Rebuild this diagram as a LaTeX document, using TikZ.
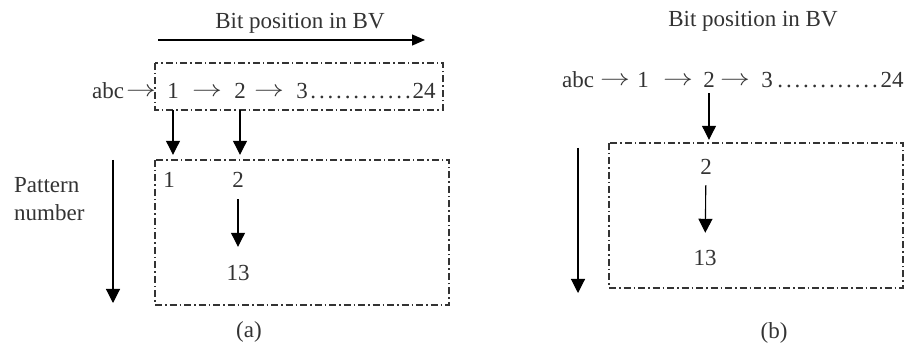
\documentclass[tikz,border=0pt]{standalone}
\usepackage{fix-cm}
\usepackage{fontspec}
\setmainfont{Liberation Serif}
\usetikzlibrary{arrows.meta}

\newcommand\dotrow{\hbox{}\leaders\hbox to 8.6pt{\hss.\hss}\hskip 104pt\hbox{}}
\newcommand\rarr{\raisebox{2pt}{\scalebox{1.3}[1]{$\rightarrow$}}}

\tikzset{
  txt/.style={inner sep=0pt, text=black!80, font=\fontsize{23}{28}\selectfont, text height=15pt, text depth=0pt},
  para/.style={inner sep=0pt, text=black!80, font=\fontsize{23}{28}\selectfont},
  dashdotbox/.style={draw=black!80, line width=1.1pt, dash pattern=on 7pt off 3pt on 1.5pt off 3pt},
  bigarr/.style={-{Triangle[length=14pt,width=14pt]}, line width=1.1pt},
}

\begin{document}
\begin{tikzpicture}[x=1pt, y=-1pt]
\useasboundingbox (0,0) rectangle (910,352);
% (a) bit vector with pattern lists
\node[txt] (atitle) at (300,21) {Bit position in BV};
\coordinate (ta1) at (158,40);
\coordinate (ta2) at (425,40);
\draw[-{Triangle[length=13pt,width=11pt]}, line width=1.3pt] (ta1) -- (ta2);
\node[txt] (aabc) at (108,91) {abc};
\node[txt] (aar1) at (141,91) {\rarr};
\node[txt] (a1) at (173,91) {1};
\node[txt] (aar2) at (207,91) {\rarr};
\node[txt] (a2) at (240,91) {2};
\node[txt] (aar3) at (269,91) {\rarr};
\node[txt] (a3) at (302,91) {3};
\node[txt] (adots) at (361,91) {\dotrow};
\node[txt] (a24) at (424,91) {24};
\draw[dashdotbox] (155,63) rectangle (443,110); % bit row
\node[txt] (ap1) at (169,180) {1};
\node[txt] (ap2) at (238,180) {2};
\node[txt] (ap13) at (238,273) {13};
\draw[dashdotbox] (155,160) rectangle (449,305); % pattern lists
\draw[bigarr, shorten <=11.5pt, shorten >=17.5pt] (a1.south) -- (a1.south |- ap1.north);
\draw[bigarr, shorten <=11.5pt, shorten >=17.5pt] (a2.south) -- (a2.south |- ap2.north);
\draw[bigarr, shorten <=11.5pt, shorten >=18.5pt] (ap2) -- (ap13);
\coordinate (pa1) at (113,160);
\coordinate (pa2) at (113,303);
\draw[bigarr] (pa1) -- (pa2);
\node[para, align=left, anchor=west] (pnum) at (14,199) {Pattern\\number};
\node[para] (alab) at (249,332) {(a)};
% (b) single bit
\node[txt] (btitle) at (753,19) {Bit position in BV};
\node[txt] (babc) at (578,80) {abc};
\node[txt] (bar1) at (615,80) {\rarr};
\node[txt] (b1) at (643,80) {1};
\node[txt] (bar2) at (678,80) {\rarr};
\node[txt] (b2) at (709,80) {2};
\node[txt] (bar3) at (735,80) {\rarr};
\node[txt] (b3) at (767,80) {3};
\node[txt] (bdots) at (828,80) {\dotrow};
\node[txt] (b24) at (892,80) {24};
\node[txt] (bp2) at (706,167) {2};
\node[txt] (bp13) at (705,258) {13};
\draw[dashdotbox] (609,143) rectangle (903,288);
\draw[bigarr, shorten <=5.5pt, shorten >=19.5pt] (b2.south) -- (b2.south |- bp2.north);
\draw[bigarr, shorten <=10.5pt, shorten >=17.5pt] (bp2) -- (bp13);
\coordinate (pb1) at (578,148);
\coordinate (pb2) at (578,293);
\draw[bigarr] (pb1) -- (pb2);
\node[para] (blab) at (774,333) {(b)};
\end{tikzpicture}
\end{document}
